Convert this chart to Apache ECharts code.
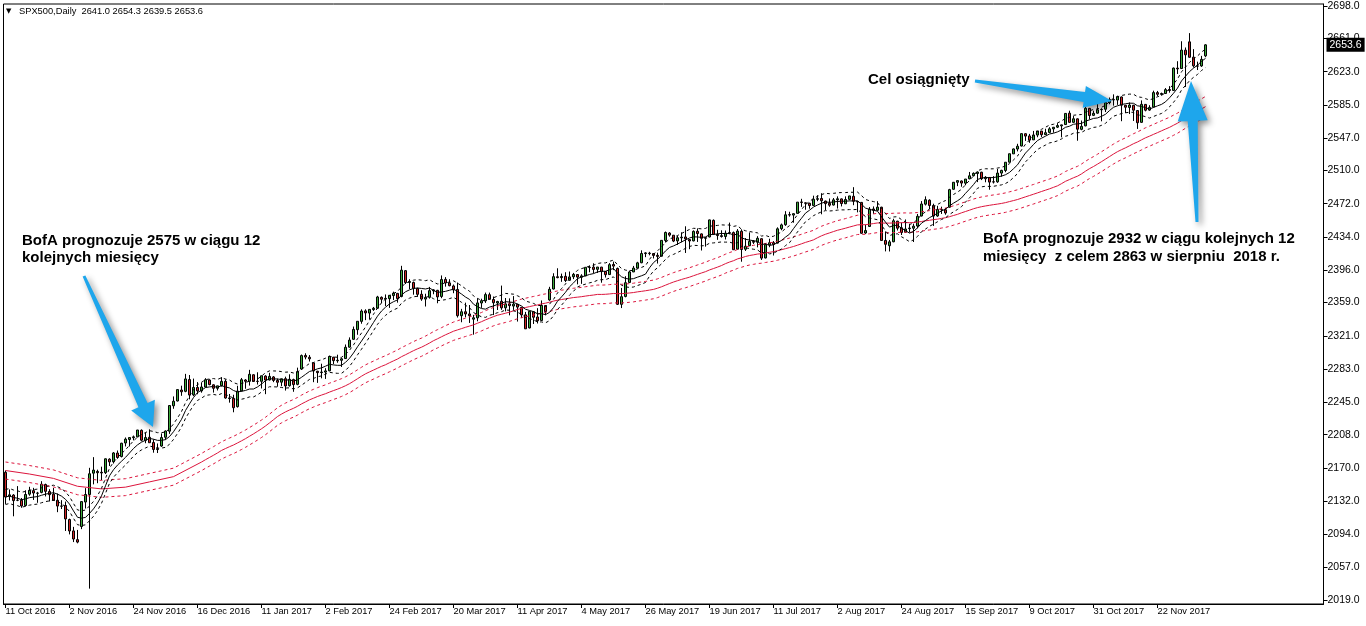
<!DOCTYPE html>
<html><head><meta charset="utf-8">
<script src="https://cdn.jsdelivr.net/npm/echarts@6/dist/echarts.min.js"></script>
<style>html,body{margin:0;padding:0;background:#fff;overflow:hidden}#chart{width:1366px;height:626px}</style>
</head><body><div id="chart"></div>
<script>
// ---------------- data ----------------
const symbolName = 'SPX500,Daily';
const firstDay = '2016-10-11';
const lastDay = '2017-12-08';
const skippedDays = ['2016-12-26', '2017-01-02', '2017-04-14'];
const emptySlots = 29; // chart shift space to the right of the last bar
const labelEvery = 16;

// daily candles [open, high, low, close]
const candles = [
// Oct 2016
[2165,2167,2128.8,2136.7],[2137.7,2145.4,2132.8,2139.2],[2139,2140,2114.7,2132.6],[2133,2149.2,2132,2133],
[2133,2135.6,2124.4,2126.5],[2127,2144.4,2126,2139.6],[2140,2148.4,2138.2,2144.3],[2144,2147.2,2133.4,2141.3],
[2141,2142.6,2130.1,2141.2],[2142,2154.8,2141,2151.3],[2151,2152,2137.4,2143.2],[2143,2145.7,2131.6,2139.4],
[2140,2147.1,2132.5,2133],[2133,2140.7,2119.4,2126.4],[2126.5,2133.1,2123,2126.2],
// Nov 2016
[2127,2131.5,2097.9,2111.7],[2111,2112,2094,2097.9],[2098,2102.6,2085.2,2088.7],[2088,2099.1,2083.8,2085.2],
[2103,2132,2100,2131.5],[2131,2146.9,2123.6,2139.6],[2139.5,2170.1,2032,2163.3],[2164,2182.3,2151.2,2167.5],
[2166,2168,2152.5,2164.5],[2165,2171.4,2156.1,2164.2],[2164.5,2180.8,2163,2180.4],[2180,2181,2172.2,2176.9],
[2177,2188.1,2175,2187.1],[2187,2189.9,2180.4,2181.9],[2183,2198.7,2182,2198.2],[2198.5,2204.8,2194.5,2202.9],
[2202.5,2204.7,2194.5,2204.7],[2204.5,2207,2201.5,2205.5],[2205.5,2213.4,2205,2213.3],[2213,2214,2200.4,2201.7],
[2201.5,2210.5,2198.2,2204.7],[2205,2214.1,2198.8,2198.8],
// Dec 2016
[2199,2202.6,2187.4,2191.1],[2191,2197.9,2187,2192],[2195,2209.4,2194,2204.7],[2205,2212.8,2202.2,2212.2],
[2212,2241.6,2208.9,2241.3],[2241,2251.7,2237.6,2246.2],[2246.5,2259.8,2246,2259.5],[2259,2264,2252.4,2257],
[2257.5,2277.5,2256.5,2271.7],[2271,2276.2,2248.4,2253.3],[2253.5,2272.1,2252,2262],[2262,2268.1,2254.2,2258.1],
[2258,2267.5,2256,2262.5],[2262.5,2272.6,2262,2270.8],[2270.5,2271.2,2264.5,2265.2],[2265,2265.5,2256.1,2261],
[2261,2263.8,2258.5,2263.8],[2264,2273.8,2263,2268.9],[2269,2271.3,2249.1,2249.9],[2250,2254.5,2244.6,2249.3],
[2249.5,2253.6,2233.6,2238.8],
// Jan 2017
[2240,2263.9,2239,2257.8],[2258,2272.8,2257.5,2270.8],[2270.5,2271.5,2260.5,2269],[2269,2282.1,2264.1,2277],
[2276.5,2277,2268.8,2268.9],[2269,2279.3,2265.3,2268.9],[2269,2275.3,2260.8,2275.3],[2275,2276,2254.3,2270.4],
[2270.5,2278.7,2270,2274.6],[2274,2275,2268,2270],[2270,2272.1,2262.8,2267.9],[2268,2272,2263.4,2271.9],
[2272,2274.3,2258.4,2263.7],[2264,2277,2263,2271.3],[2271,2272,2257,2265.2],[2265.5,2284.6,2264.5,2280.1],
[2283,2299.6,2282,2298.4],[2298.5,2301,2294.1,2296.7],[2296.5,2299,2291.6,2294.7],[2290,2290.5,2268,2280.9],
[2280.5,2281,2267.2,2278.9],
// Feb 2017
[2279,2289.1,2272.4,2279.6],[2279.5,2284,2271.7,2280.9],[2281,2298.3,2280.5,2297.4],[2296.5,2297,2288.6,2292.6],
[2292.5,2299.4,2290.2,2293.1],[2293,2295.9,2285.4,2294.7],[2295,2311.1,2294.5,2307.9],[2308,2319.2,2307.5,2316.1],
[2317,2331.6,2316.5,2328.3],[2328,2337.6,2322.2,2337.6],[2337.5,2351.3,2334.8,2349.3],[2349.5,2351.3,2338.9,2347.2],
[2347,2351.2,2339.6,2351.2],[2351,2354,2349.5,2352.5],[2352.5,2366.7,2352,2365.4],[2365,2366,2358.3,2362.8],
[2363,2368.3,2355.1,2363.8],[2363.5,2367.3,2352.9,2367.3],[2367,2371.5,2361.9,2369.8],[2369.5,2370,2358.9,2363.6],
// Mar 2017
[2366,2401,2365,2396],[2395.5,2396,2380.2,2381.9],[2382,2385.7,2374.4,2383.1],[2382,2383,2368,2375.3],
[2375,2376,2365.5,2368.4],[2368.5,2373.1,2361,2363],[2363,2369.1,2354.5,2364.9],[2365,2376.9,2363.5,2372.6],
[2372.5,2374.4,2368.5,2373.5],[2373,2373.5,2358.2,2365.5],[2366,2390,2364,2385.3],[2385.5,2388.1,2377.2,2381.4],
[2381.5,2385.7,2377.6,2378.3],[2378,2379.6,2369.7,2373.5],[2374,2381.9,2341.9,2344],[2344,2351.8,2336.5,2348.5],
[2348.5,2358.9,2342.1,2346],[2346,2356.2,2335.7,2344],[2340,2344.9,2322.3,2341.6],[2341.5,2363.8,2337.6,2358.6],
[2358.5,2363.4,2352.9,2361.1],[2361,2370.4,2358.6,2368.1],[2368,2370.4,2362.6,2362.7],
// Apr 2017
[2362.5,2365.9,2344.7,2358.8],[2358.5,2361,2350.5,2360.2],[2360.5,2378.4,2350.7,2353],[2353,2364.2,2348.9,2357.5],
[2357.5,2363.8,2344.4,2355.5],[2355,2366.4,2350.6,2357.2],[2357,2357.5,2337.3,2353.8],[2353.5,2354,2341.2,2344.9],
[2345,2348.3,2329,2329],[2330,2349.1,2329.5,2349],[2348.5,2349,2334.5,2342.2],[2342.5,2352.6,2335.1,2338.2],
[2338.5,2361.4,2338,2355.8],[2355.5,2356.2,2344.5,2348.7],[2362,2377,2361,2374.2],[2374.5,2392.5,2374,2388.6],
[2388.5,2398.2,2386.8,2387.5],[2387.5,2392.1,2382.7,2388.8],[2389,2393.7,2382.4,2384.2],
// May 2017
[2384.5,2394.5,2384,2388.3],[2388.5,2392.9,2385.8,2391.2],[2391,2391.5,2379.8,2388.1],[2388,2391.4,2380.4,2389.5],
[2389.5,2399.3,2389.4,2399.3],[2399,2401.4,2393.6,2399.4],[2399.5,2403.9,2392.4,2396.9],[2397,2399.7,2392.8,2399.6],
[2399.5,2399.8,2381.7,2394.4],[2394.5,2395,2387.6,2390.9],[2391,2404.1,2390.5,2402.3],[2402.5,2405.8,2396.1,2400.7],
[2398,2399,2356.2,2357],[2357,2375.7,2352.7,2365.7],[2366,2389.1,2365,2381.7],[2382,2395.5,2381.5,2394],
[2394,2400.9,2393.9,2398.4],[2398.5,2405.6,2397.9,2404.4],[2404.5,2418.7,2404,2415.1],[2415,2416.6,2410.9,2415.8],
[2415.5,2417,2413,2415],[2415,2415.3,2409.4,2412.9],[2413,2416,2403.6,2411.8],
// Jun 2017
[2412,2430.1,2411.5,2430.1],[2430,2440.2,2427.7,2439.1],[2438.5,2439.5,2434.3,2436.1],[2436,2436.2,2428.1,2429.3],
[2429.5,2435.3,2424.8,2433.1],[2433,2439.3,2427.9,2433.8],[2434,2446.2,2415.7,2431.8],[2431,2431.5,2420,2429.4],
[2429.5,2441.5,2429,2440.4],[2440.5,2443.8,2428.3,2437.9],[2437.5,2438,2418.5,2432.5],[2432.5,2433.2,2422.9,2433.2],
[2434,2453.8,2433.5,2453.5],[2453,2454,2436.6,2437],[2437,2442.2,2430.7,2435.6],[2435.5,2441.6,2433.3,2434.5],
[2434.5,2441.4,2431.1,2438.3],[2439,2450.4,2437,2439.1],[2439,2440.2,2419.4,2419.4],[2420,2443,2419.5,2440.7],
[2440.5,2442.7,2405.7,2419.7],[2420,2432.7,2418,2423.4],
// Jul 2017
[2424,2439.2,2423.5,2429],[2429,2430.5,2426,2428],[2428,2434.9,2422.1,2432.5],[2432,2432.5,2407.7,2409.8],
[2410,2426.9,2409.5,2425.2],[2425,2432,2422.3,2427.4],[2427.5,2429.3,2412.8,2425.5],[2427,2445,2426.5,2443.3],
[2443.5,2449.3,2441.7,2447.8],[2448,2463.5,2446.7,2459.3],[2459.5,2462.8,2457.2,2459.1],[2459,2460.9,2450.3,2460.6],
[2461,2473.8,2460.5,2473.8],[2474,2477.6,2468.4,2473.5],[2473,2473.5,2465.1,2472.5],[2472.5,2473.1,2466.3,2469.9],
[2470,2481.2,2469.5,2477.1],[2477,2481.7,2474.9,2477.8],[2478,2484,2459.9,2475.4],[2475,2475.5,2464.7,2472.1],
[2472.5,2478,2468.5,2470.3],
// Aug 2017
[2470.5,2478.5,2470,2476.4],[2476.5,2480.4,2466.5,2477.6],[2477.5,2478,2468.9,2472.2],[2472,2480.4,2471.5,2476.8],
[2477,2481,2475.9,2480.9],[2480.5,2490.9,2470.3,2474.9],[2474.5,2475,2462.1,2474],[2473.5,2474,2437.8,2438.2],
[2438.5,2448.1,2437.5,2441.3],[2446,2468.2,2445.5,2465.8],[2466,2468.9,2460.5,2464.6],[2464.5,2474.9,2463.9,2468.1],
[2468,2468.5,2430,2430],[2430,2440.3,2417.5,2425.6],[2424,2430.6,2417.4,2428.4],[2428.5,2454.8,2428,2452.5],
[2452,2452.5,2441.4,2444],[2444.5,2450.4,2436.2,2439],[2439.5,2454,2439,2443.1],[2443.5,2449.1,2439,2444.2],
[2444,2449.2,2428.2,2446.3],[2446.5,2460.3,2443.8,2457.6],[2458,2475,2457.5,2471.7],
// Sep 2017
[2471.5,2480.4,2470,2476.6],[2476,2477,2466,2470],[2470,2472,2446.6,2457.9],[2458,2469.6,2457,2465.5],
[2465.5,2468.6,2460.3,2465.1],[2465,2467.1,2459.4,2461.4],[2468,2489,2467.5,2488.1],[2488.5,2496.8,2488,2496.5],
[2496.5,2498.4,2492.1,2498.4],[2498,2498.5,2491.4,2495.6],[2495.5,2500.2,2493.2,2500.2],[2500.5,2508.3,2499.9,2503.9],
[2504,2507.8,2503.2,2506.7],[2506.5,2508.9,2496.7,2508.2],[2508,2508.5,2499,2500.6],[2500.5,2503.5,2496.5,2502.2],
[2502,2502.5,2488,2496.7],[2497,2503.5,2495.1,2496.8],[2497,2511.8,2495.9,2507],[2507,2510.8,2502.9,2510.1],
[2510,2519.4,2508,2519.4],
// Oct 2017
[2519.5,2529.2,2519,2529.1],[2529,2535.1,2528.9,2534.6],[2534.5,2540.5,2531.8,2537.7],[2538,2552.5,2537.5,2552.1],
[2552,2552.5,2543.8,2549.3],[2549.5,2551.8,2541.6,2544.7],[2545,2555.2,2544.9,2550.6],[2550.5,2555.2,2548,2555.2],
[2555,2555.3,2548.3,2550.9],[2551,2557.7,2550.5,2553.2],[2553.5,2559.5,2553,2557.6],[2557.5,2559.7,2553.2,2559.4],
[2559.5,2564.1,2558.5,2561.3],[2561,2562.4,2547.9,2562.1],[2562.5,2575.4,2562,2575.2],[2575.5,2578.3,2564.3,2565],
[2565,2572.2,2564.5,2569.1],[2569,2569.5,2544,2557.2],[2557,2567.1,2556,2560.4],[2561,2583,2560.5,2581.1],
[2581,2581.5,2568.3,2572.8],[2573,2578.3,2572.2,2575.3],
// Nov 2017
[2575.5,2588.4,2574.9,2579.4],[2579.5,2581.1,2566.2,2579.9],[2580,2588.4,2576.8,2587.8],[2587.5,2593.4,2585.7,2591.1],
[2591,2597,2584.1,2590.6],[2590.5,2595.5,2585,2594.4],[2594,2594.5,2566.3,2584.6],[2584.5,2585,2575.6,2582.3],
[2582,2587.7,2574.5,2584.8],[2584.5,2585,2566.6,2578.9],[2578.5,2579,2557.5,2564.6],[2565,2590.1,2564.5,2585.6],
[2585.5,2586,2577.6,2578.9],[2579,2584.6,2578.2,2582.1],[2582.5,2601.2,2582,2599],[2599,2600.9,2594.9,2597.1],
[2597,2599,2595.5,2598],[2598,2604.2,2597.5,2602.4],[2602.5,2606.4,2598.9,2601.4],[2601.5,2627.7,2601,2627],
[2627,2634.9,2620.3,2626.1],[2626.5,2657.7,2626,2647.6],
// Dec 2017
[2647.5,2650.6,2605.5,2642.2],[2657,2667,2639,2639.4],[2639.5,2648.7,2627.7,2629.6],[2629.5,2634.4,2624.8,2629.3],
[2629.5,2641,2628.4,2637],[2641.0,2654.3,2639.5,2653.6]
];

// right price scale tick labels
const yTickLabels = ['2019.0','2057.0','2094.0','2132.0','2170.0','2208.0','2245.0','2283.0','2321.0','2359.0',
  '2396.0','2434.0','2472.0','2510.0','2547.0','2585.0','2623.0','2661.0','2698.0'];

// indicators (moving averages with envelopes)
const blackMaPeriod = 8, blackEnvPct = 0.4;
const redMaPeriod = 50, redEnvPct = 0.45;
// red MA before enough history is visible
const redHeadIdx = [0, 6, 12, 18, 24, 30, 36, 42];
const redHeadVal = [2167, 2163, 2158, 2149, 2146, 2148, 2154, 2160];

const monthNames = ['Jan','Feb','Mar','Apr','May','Jun','Jul','Aug','Sep','Oct','Nov','Dec'];

// ---------------- build ----------------
const dates = [];
for (let d = new Date(firstDay + 'T00:00:00Z'); d <= new Date(lastDay + 'T00:00:00Z'); d.setUTCDate(d.getUTCDate() + 1)) {
  const wd = d.getUTCDay();
  const s = d.toISOString().slice(0, 10);
  if (wd === 0 || wd === 6 || skippedDays.includes(s)) continue;
  dates.push(s);
}
if (dates.length !== candles.length) console.warn('dates', dates.length, 'candles', candles.length);
const categories = dates.concat(Array.from({length: emptySlots}, (_, k) => '~' + k));

const closes = candles.map(r => r[3]);
function sma(arr, n, i) {
  const from = Math.max(0, i - n + 1);
  let s = 0; for (let k = from; k <= i; k++) s += arr[k];
  return s / (i - from + 1);
}
const blackMa = closes.map((_, i) => +sma(closes, blackMaPeriod, i).toFixed(2));
const redMa = closes.map((_, i) => {
  if (i >= redMaPeriod - 1) return +sma(closes, redMaPeriod, i).toFixed(2);
  const h = redHeadIdx.indexOf(i);
  return h >= 0 ? redHeadVal[h] : null;
});
const env = (arr, pct) => arr.map(v => v == null ? null : +(v * (1 + pct / 100)).toFixed(2));

const last = candles[candles.length - 1];

function fmtDate(s) {
  if (!/^\d{4}-/.test(s)) return '';
  const [y, m, d] = s.split('-');
  return (+d) + ' ' + monthNames[+m - 1] + ' ' + y;
}
const showTick = (idx) => idx % labelEvery === 0 && idx < dates.length;

function arrowPts(tx, ty, hx, hy, tailW, shaftW, headLen, headW) {
  const dx = hx - tx, dy = hy - ty, L = Math.hypot(dx, dy), ux = dx / L, uy = dy / L, nx = -uy, ny = ux;
  const bx = hx - ux * headLen, by = hy - uy * headLen;
  return [[tx + nx * tailW, ty + ny * tailW], [bx + nx * shaftW, by + ny * shaftW], [bx + nx * headW, by + ny * headW],
    [hx, hy], [bx - nx * headW, by - ny * headW], [bx - nx * shaftW, by - ny * shaftW], [tx - nx * tailW, ty - ny * tailW]];
}
const arrowStyle = {fill: '#1ea6ec', shadowBlur: 6, shadowColor: 'rgba(0,0,0,0.45)', shadowOffsetX: 3, shadowOffsetY: 3};
const noteFont = 'bold 15px "Liberation Sans", Arial, sans-serif';

const FONT = '"Liberation Sans", Arial, sans-serif';
const chart = echarts.init(document.getElementById('chart'), null, {renderer: 'canvas'});
const lineBase = {type: 'line', symbol: 'none', showSymbol: false, silent: true, connectNulls: true, animation: false, z: 3};

chart.setOption({
  animation: false,
  backgroundColor: '#fff',
  grid: {left: 3.5, top: 4, width: 1320, height: 600, show: true, borderColor: '#000', borderWidth: 1, backgroundColor: '#fff'},
  xAxis: {
    type: 'category', data: categories, boundaryGap: true,
    axisLine: {show: true, lineStyle: {color: '#000', width: 1}},
    axisTick: {show: true, interval: showTick, alignWithLabel: true, length: 4, lineStyle: {color: '#000'}},
    axisLabel: {interval: showTick, align: 'left', color: '#000', fontSize: 9.3, fontFamily: FONT, margin: 3,
      formatter: v => fmtDate(v)},
    splitLine: {show: false}
  },
  yAxis: {
    type: 'value', position: 'right', min: 2014.43, max: 2700.29, scale: true,
    axisLine: {show: true, lineStyle: {color: '#000'}},
    axisTick: {show: true, length: 4, lineStyle: {color: '#000'}, customValues: yTickLabels.map(parseFloat)},
    axisLabel: {color: '#000', fontSize: 10.5, fontFamily: FONT, margin: 4, customValues: yTickLabels.map(parseFloat),
      formatter: v => v.toFixed(1)},
    splitLine: {show: false}
  },
  series: [
    {
      type: 'candlestick', name: symbolName, barWidth: 3, z: 2,
      data: candles.map(r => [r[0], r[3], r[2], r[1]]),
      itemStyle: {color: '#3aaa3a', color0: '#d02424', borderColor: '#000', borderColor0: '#000', borderColorDoji: '#000', borderWidth: 1},
      markLine: {
        silent: true, symbol: 'none', animation: false,
        lineStyle: {color: 'rgba(0,0,0,0)', width: 0},
        data: [{yAxis: last[3]}],
        label: {show: true, position: 'end', distance: 3, formatter: last[3].toFixed(1), color: '#fff', backgroundColor: '#000',
          fontSize: 10.5, fontFamily: FONT, padding: [2, 3, 1, 3]}
      }
    },
    Object.assign({}, lineBase, {data: redMa, lineStyle: {color: '#dc143c', width: 1}}),
    Object.assign({}, lineBase, {data: env(redMa, redEnvPct), lineStyle: {color: '#dc143c', width: 1, type: [3, 3]}}),
    Object.assign({}, lineBase, {data: env(redMa, -redEnvPct), lineStyle: {color: '#dc143c', width: 1, type: [3, 3]}}),
    Object.assign({}, lineBase, {data: blackMa, lineStyle: {color: '#000', width: 1}}),
    Object.assign({}, lineBase, {data: env(blackMa, blackEnvPct), lineStyle: {color: '#000', width: 1, type: [3, 3]}}),
    Object.assign({}, lineBase, {data: env(blackMa, -blackEnvPct), lineStyle: {color: '#000', width: 1, type: [3, 3]}})
  ],
  graphic: [
    {type: 'text', left: 6, top: 8, z: 50, style: {text: '\u25BC', font: '7px "DejaVu Sans", sans-serif', fill: '#000'}},
    {type: 'text', left: 19, top: 7, z: 50, style: {text: symbolName + '  ' + last.map(v => v.toFixed(1)).join(' '),
      font: '9.3px ' + FONT, fill: '#000'}},
    {type: 'polygon', z: 60, shape: {points: arrowPts(84, 276, 153, 427, 1.5, 5, 24, 13)}, style: arrowStyle},
    {type: 'polygon', z: 60, shape: {points: arrowPts(975, 81, 1112, 101, 1.5, 5, 28, 11)}, style: arrowStyle},
    {type: 'polygon', z: 60, shape: {points: arrowPts(1197, 222, 1191, 81, 1.5, 5, 40, 15)}, style: arrowStyle},
    {type: 'text', left: 22, top: 232, z: 70, style: {text: 'BofA prognozuje 2575 w ciągu 12\nkolejnych miesięcy', font: noteFont, fill: '#000', lineHeight: 17}},
    {type: 'text', left: 868, top: 72, z: 70, style: {text: 'Cel osiągnięty', font: noteFont, fill: '#000'}},
    {type: 'text', left: 983, top: 230, z: 70, style: {text: 'BofA prognozuje 2932 w ciągu kolejnych 12\nmiesięcy  z celem 2863 w sierpniu  2018 r.', font: noteFont, fill: '#000', lineHeight: 18}}
  ]
});
</script>
</body></html>
